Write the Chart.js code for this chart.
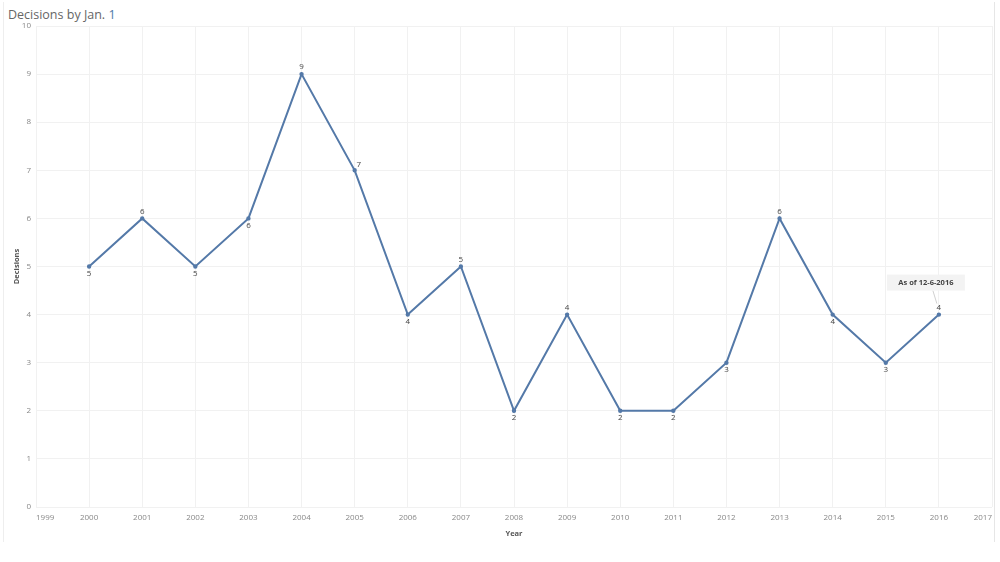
<!DOCTYPE html>
<html>
<head>
<meta charset="utf-8">
<script src="https://cdn.jsdelivr.net/npm/chart.js@4.4.0/dist/chart.umd.min.js"></script>
<style>
  html, body { margin: 0; padding: 0; background: #fff; }
  #wrap { position: relative; width: 1000px; height: 562px; overflow: hidden; }
  #title { position: absolute; left: 8px; top: 6px; font-family: "Open Sans", "Noto Sans", sans-serif; font-size: 12.5px; color: #666; }
  #title span { color: #4e79a7; }
  #frame { position: absolute; left: 3px; top: 2px; width: 990px; height: 540px; border-right: 1px solid #e6e6e6; border-left: 1px solid #eee; }
  canvas { position: absolute; left: 0; top: 0; }
</style>
</head>
<body>
<div id="wrap">
  <div id="frame"></div>
  <div id="title">Decisions by Jan. <span>1</span></div>
  <canvas id="chart" width="1000" height="562"></canvas>
</div>
<script>
// Data
const years = [2000, 2001, 2002, 2003, 2004, 2005, 2006, 2007, 2008, 2009, 2010, 2011, 2012, 2013, 2014, 2015, 2016];
const decisions = [5, 6, 5, 6, 9, 7, 4, 5, 2, 4, 2, 2, 3, 6, 4, 3, 4];
const labelPos = ["below", "above", "below", "below", "above", "right", "below", "above", "below", "above", "below", "below", "below", "above", "below", "below", "above"];
const noteText = "As of 12-6-2016";

// point value labels + note box
const valueLabels = {
    id: "valueLabels",
    afterDatasetsDraw(chart) {
        const ctx = chart.ctx;
        const meta = chart.getDatasetMeta(0);
        ctx.save();
        ctx.font = "8px 'Open Sans', sans-serif";
        ctx.fillStyle = "#444";
        ctx.textAlign = "center";
        ctx.textBaseline = "middle";
        meta.data.forEach((pt, i) => {
            let x = pt.x, y = pt.y;
            if (labelPos[i] === "above") y -= 7;
            else if (labelPos[i] === "below") y += 7;
            else { x += 4; y -= 6; }
            ctx.fillText(String(decisions[i]), x, y);
        });

        // annotation on the last point
        const last = meta.data[meta.data.length - 1];
        const bx = last.x - 52, by = last.y - 40, bw = 78, bh = 16;
        ctx.strokeStyle = "#bbb";
        ctx.lineWidth = 0.7;
        ctx.beginPath();
        ctx.moveTo(last.x - 6, by + bh);
        ctx.lineTo(last.x - 2, last.y - 11);
        ctx.stroke();
        ctx.fillStyle = "#f3f3f3";
        ctx.fillRect(bx, by, bw, bh);
        ctx.fillStyle = "#444";
        ctx.font = "bold 7.5px 'Open Sans', sans-serif";
        ctx.fillText(noteText, bx + bw / 2, by + bh / 2);
        ctx.restore();
    }
};

const ctx = document.getElementById("chart").getContext("2d");
const chart = new Chart(ctx, {
    type: "line",
    data: {
        datasets: [{
            data: years.map((y, i) => ({ x: y, y: decisions[i] })),
            borderColor: "#5479a8",
            backgroundColor: "#5479a8",
            borderWidth: 2,
            pointRadius: 1.2,
            pointHoverRadius: 1.2,
            tension: 0
        }]
    },
    options: {
        responsive: false,
        animation: false,
        events: [],
        layout: { padding: { left: 0, top: 26, right: 8, bottom: 20 } },
        plugins: { legend: { display: false }, tooltip: { enabled: false } },
        scales: {
            x: {
                type: "linear",
                min: 1999,
                max: 2017,
                ticks: {
                    stepSize: 1,
                    align: "inner",
                    color: "#888",
                    font: { size: 8, family: "'Open Sans', sans-serif" },
                    padding: 6,
                    callback: v => String(v)
                },
                grid: { color: "#f1f1f1", drawTicks: false },
                border: { display: false },
                title: { display: true, text: "Year", color: "#555", font: { size: 7.5, weight: "bold", family: "'Open Sans', sans-serif" }, padding: { top: 4 } },
                afterFit: s => { s.height = 35; }
            },
            y: {
                min: 0,
                max: 10,
                ticks: {
                    stepSize: 1,
                    color: "#888",
                    font: { size: 8, family: "'Open Sans', sans-serif" },
                    padding: 5
                },
                grid: { color: "#f1f1f1", drawTicks: false },
                border: { display: false },
                title: { display: true, text: "Decisions", color: "#555", font: { size: 7.5, weight: "bold", family: "'Open Sans', sans-serif" }, padding: { top: 12 } },
                afterFit: s => { s.width = 36; }
            }
        }
    },
    plugins: [valueLabels]
});
</script>
</body>
</html>
